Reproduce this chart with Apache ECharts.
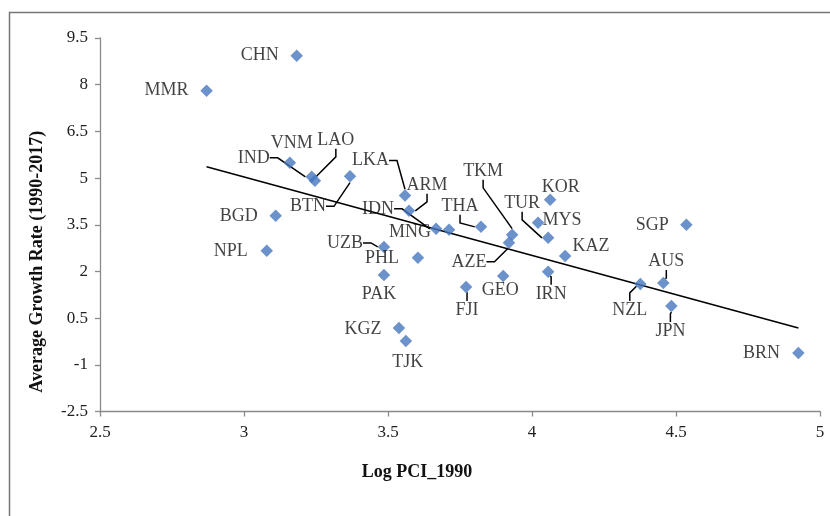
<!DOCTYPE html>
<html>
<head>
<meta charset="utf-8">
<script src="https://cdn.jsdelivr.net/npm/echarts@6/dist/echarts.min.js"></script>
<style>html,body{margin:0;padding:0;background:#fff}#c{width:830px;height:516px}</style>
</head>
<body>
<div id="c"></div>
<script>
// ---- data ----
var countries = ['CHN','MMR','VNM','IND','LAO','BTN','BGD','NPL','LKA','ARM','IDN','MNG','THA','UZB','PHL','PAK','TKM','AZE','GEO','FJI','KOR','MYS','TUR','KAZ','IRN','KGZ','TJK','SGP','NZL','AUS','JPN','BRN'];
var logPci = [3.183,2.870,3.159,3.235,3.246,3.368,3.110,3.079,3.559,3.573,3.667,3.712,3.823,3.486,3.604,3.486,3.931,3.920,3.900,3.771,4.063,4.021,4.056,4.115,4.056,3.538,3.562,4.536,4.376,4.456,4.484,4.925];
var growth = [8.93,7.805,5.49,5.04,4.91,5.056,3.786,2.661,4.439,3.947,3.368,3.336,3.432,2.789,2.436,1.889,3.175,2.918,1.857,1.503,4.301,3.561,3.079,2.500,1.986,0.185,-0.233,3.497,1.600,1.632,0.892,-0.619];
var trendX = [2.870, 4.925];
var trendY = [5.362, 0.185];
var yTicks = [-2.5,-1,0.5,2,3.5,5,6.5,8,9.5];
var xTicks = [2.5,3,3.5,4,4.5,5];

// ---- label layout (offsets of label centre from marker, in px) ----
var labelOffsets = {
  CHN:[-37,0], MMR:[-40,0], VNM:[2,-20], IND:[-58,-19], LAO:[21,-41], BTN:[-42,30],
  BGD:[-37,0], NPL:[-36,0], LKA:[-34.5,-35], ARM:[18,-26], IDN:[-58,-20], MNG:[-39,2],
  THA:[-21,-21], UZB:[-39,-4], PHL:[-36,0], PAK:[-5,19], TKM:[-29,-64], AZE:[-40,19],
  GEO:[-3,14], FJI:[1,23], KOR:[10.5,-12.3], MYS:[24,-3], TUR:[-26,-35], KAZ:[26,-10],
  IRN:[3,22], KGZ:[-36,1], TJK:[2,21], SGP:[-34,0], NZL:[-10.5,26], AUS:[3,-22],
  JPN:[-1,25], BRN:[-37,0]
};
var withLeader = ['IND','LAO','BTN','LKA','ARM','IDN','THA','UZB','TKM','AZE','FJI','TUR','IRN','NZL','AUS','JPN'];

var FONT = "'Liberation Serif','Times New Roman',serif";

var scatterData = countries.map(function (c, i) {
  var item = { name: c, value: [logPci[i], growth[i]] };
  if (withLeader.indexOf(c) >= 0) item.labelLine = { show: true };
  return item;
});
var trendData = trendX.map(function (x, i) { return [x, trendY[i]]; });

var chart = echarts.init(document.getElementById('c'), null, { renderer: 'canvas' });
chart.setOption({
  animation: false,
  backgroundColor: '#fff',
  graphic: [{
    type: 'rect', left: 7, top: 10,
    shape: { width: 840, height: 520 },
    style: { fill: 'none', stroke: '#767676', lineWidth: 1.5 },
    silent: true, z: -1
  }],
  grid: { left: 100, top: 38, width: 720, height: 373.5, containLabel: false },
  xAxis: {
    type: 'value', min: 2.5, max: 5, interval: 0.5,
    name: 'Log PCI_1990', nameLocation: 'middle', nameGap: 52,
    nameTextStyle: { fontFamily: FONT, fontWeight: 'bold', fontSize: 18, color: '#111', padding: [0, 86, 0, 0] },
    axisLine: { show: true, onZero: false, lineStyle: { color: '#8a8a8a', width: 1.3 } },
    axisTick: { show: true, inside: false, length: 5, lineStyle: { color: '#8a8a8a', width: 1.3 }, customValues: xTicks },
    axisLabel: { fontFamily: FONT, fontSize: 17, color: '#222', margin: 13, customValues: xTicks },
    splitLine: { show: false }
  },
  yAxis: {
    type: 'value', min: -2.5, max: 9.5,
    name: 'Average Growth Rate (1990-2017)', nameLocation: 'middle', nameGap: 54, nameRotate: 90,
    nameTextStyle: { fontFamily: FONT, fontWeight: 'bold', fontSize: 18, color: '#111', padding: [0, 74, 0, 0] },
    axisLine: { show: true, onZero: false, lineStyle: { color: '#8a8a8a', width: 1.3 } },
    axisTick: { show: true, inside: false, length: 5, lineStyle: { color: '#8a8a8a', width: 1.3 }, customValues: yTicks },
    axisLabel: { fontFamily: FONT, fontSize: 17, color: '#222', margin: 12, customValues: yTicks },
    splitLine: { show: false }
  },
  series: [
    {
      type: 'line', data: trendData, showSymbol: false, symbol: 'none',
      lineStyle: { color: '#000', width: 1.6 }, z: 1, silent: true
    },
    {
      type: 'scatter', data: scatterData, symbol: 'diamond', symbolSize: 12.5,
      itemStyle: { color: '#4677BE' }, z: 3,
      label: {
        show: true, position: 'inside', formatter: '{b}',
        fontFamily: FONT, fontSize: 18, color: '#111'
      },
      labelLine: { show: false, length2: 8, lineStyle: { color: '#000', width: 1.5 } },
      labelLayout: function (p) {
        var o = labelOffsets[countries[p.dataIndex]] || [0, 0];
        return { dx: o[0], dy: o[1] };
      }
    }
  ]
});
</script>
</body>
</html>
